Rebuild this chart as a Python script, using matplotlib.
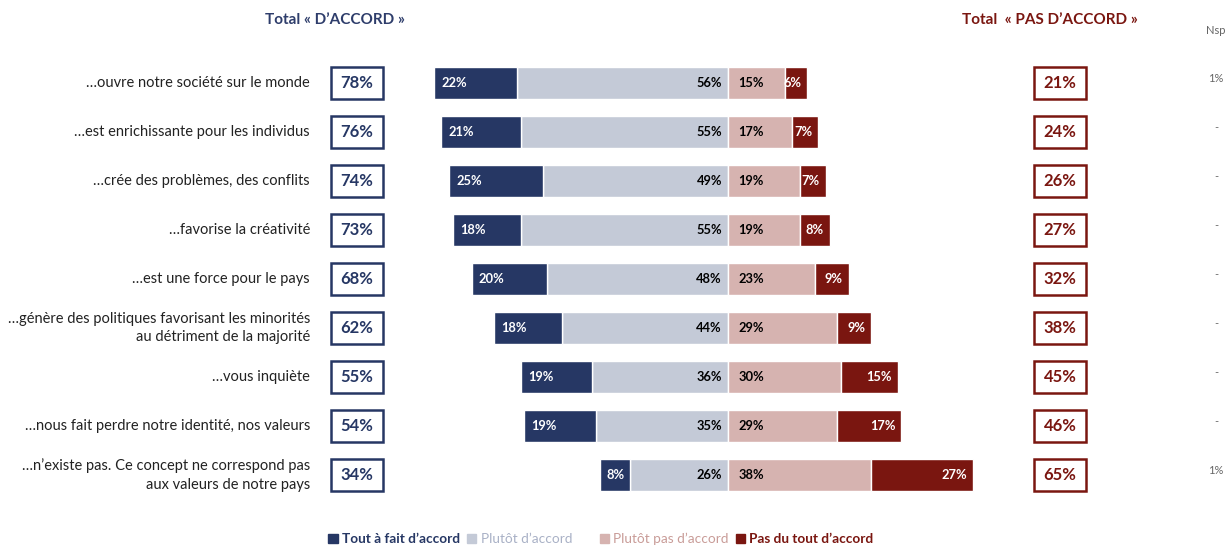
import matplotlib.pyplot as plt
from matplotlib.patches import Rectangle, Patch

plt.rcParams['font.family'] = ['Lato', 'DejaVu Sans']

# --- données -------------------------------------------------------------
items = [
    "…ouvre notre société sur le monde",
    "…est enrichissante pour les individus",
    "…crée des problèmes, des conflits",
    "…favorise la créativité",
    "…est une force pour le pays",
    "…génère des politiques favorisant les minorités\nau détriment de la majorité",
    "…vous inquiète",
    "…nous fait perdre notre identité, nos valeurs",
    "…n’existe pas. Ce concept ne correspond pas\naux valeurs de notre pays",
]
tout_a_fait = [22, 21, 25, 18, 20, 18, 19, 19, 8]
plutot = [56, 55, 49, 55, 48, 44, 36, 35, 26]
plutot_pas = [15, 17, 19, 19, 23, 29, 30, 29, 38]
pas_du_tout = [6, 7, 7, 8, 9, 9, 15, 17, 27]
total_accord = [78, 76, 74, 73, 68, 62, 55, 54, 34]
total_pas = [21, 24, 26, 27, 32, 38, 45, 46, 65]
nsp = ["1%", "-", "-", "-", "-", "-", "-", "-", "1%"]

NAVY = "#263764"
LIGHT = "#C4CAD7"
PINK = "#D6B3B0"
DARKRED = "#7A1610"

# --- figure : un seul axe qui couvre toute l'image ------------------------
fig = plt.figure(figsize=(12.27, 5.46), dpi=100)
ax = fig.add_axes([0, 0, 1, 1])
px = 3.77                      # pixels par point de %
x0 = 728                       # position du zéro
ax.set_xlim(-x0 / px, (1227 - x0) / px)
ax.set_ylim((546 - 83) / 49, -83 / 49)
ax.axis("off")

y = list(range(len(items)))
h = 0.67
kw = dict(height=h, edgecolor="white", linewidth=1)
neg_plutot = [-v for v in plutot]
neg_tout = [-v for v in tout_a_fait]
b_plutot = ax.barh(y, neg_plutot, color=LIGHT, **kw)
b_tout = ax.barh(y, neg_tout, left=neg_plutot, color=NAVY, **kw)
b_pas = ax.barh(y, plutot_pas, color=PINK, **kw)
b_pdt = ax.barh(y, pas_du_tout, left=plutot_pas, color=DARKRED, **kw)

lbl = dict(fontsize=9.3, fontweight="bold", va="center")
for i in y:
    left = -(plutot[i] + tout_a_fait[i])
    ax.text(left + 1.9, i, f"{tout_a_fait[i]}%", color="white", ha="left", **lbl)
    ax.text(-1.6, i, f"{plutot[i]}%", color="black", ha="right", **lbl)
    ax.text(2.7, i, f"{plutot_pas[i]}%", color="black", ha="left", **lbl)
    right = plutot_pas[i] + pas_du_tout[i]
    ax.text(right - 1.6, i, f"{pas_du_tout[i]}%", color="white", ha="right", **lbl)

    # libellés à gauche
    ax.text((310 - x0) / px, i, items[i], ha="right", va="center",
            fontsize=10.5, color="#222222", linespacing=1.45)

    # encadrés des totaux
    bw, bh = 52 / px, 32 / 49
    for cx, val, col in (((357 - x0) / px, total_accord[i], NAVY),
                         ((1060 - x0) / px, total_pas[i], DARKRED)):
        ax.add_patch(Rectangle((cx - bw / 2, i - bh / 2), bw, bh,
                               facecolor="white", edgecolor=col, linewidth=1.8))
        ax.text(cx, i, f"{val}%", ha="center", va="center", fontsize=12,
                fontweight="bold", color=col)

    ax.text((1216 - x0) / px, i - 0.1, nsp[i], ha="center", va="center",
            fontsize=8, color="#666666")

# titres des colonnes
ax.text((335 - x0) / px, -63 / 49, "Total « D’ACCORD »", ha="center",
        va="center", fontsize=11, fontweight="bold", color="#2E3D6B")
ax.text((1050 - x0) / px, -63 / 49, "Total  « PAS D’ACCORD »", ha="center",
        va="center", fontsize=11, fontweight="bold", color=DARKRED)
ax.text((1216 - x0) / px, -53 / 49, "Nsp", ha="center", va="center",
        fontsize=8, color="#666666")

# légende
handles = [Patch(color=NAVY), Patch(color=LIGHT), Patch(color=PINK),
           Patch(color=DARKRED)]
names = ["Tout à fait d’accord", "Plutôt d’accord      ",
         "Plutôt pas d’accord", "Pas du tout d’accord"]
leg = ax.legend(handles, names, ncol=4, frameon=False, loc="center",
                bbox_to_anchor=(601 / 1227, 1 - 539 / 546),
                handlelength=0.7, handleheight=0.7, handletextpad=0.3,
                columnspacing=0.5, fontsize=9.8)
for t, c in zip(leg.get_texts(), [NAVY, "#A9B1C6", "#C99C98", DARKRED]):
    t.set_color(c)
    if c in (NAVY, DARKRED):
        t.set_fontweight("bold")

fig.savefig("out.png", dpi=100)
